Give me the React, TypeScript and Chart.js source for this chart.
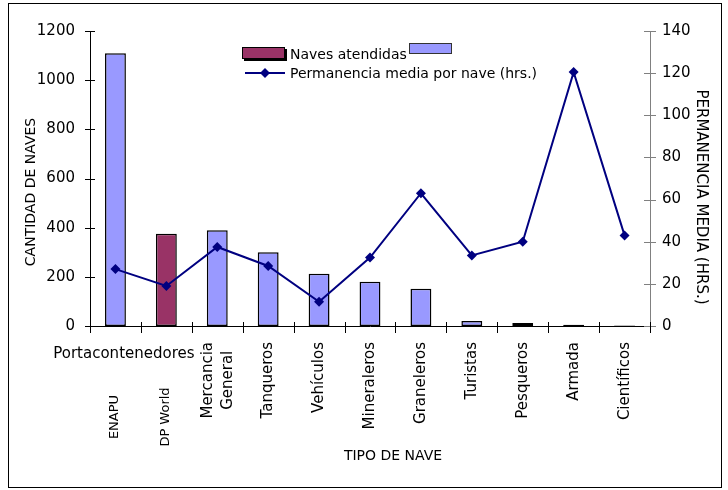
import React, { useEffect, useRef } from 'react';
import { Chart, registerables } from 'chart.js';

Chart.register(...registerables);

const categories = ['ENAPU', 'DP World', 'Mercancia General', 'Tanqueros', 'Vehículos', 'Mineraleros', 'Graneleros', 'Turistas', 'Pesqueros', 'Armada', 'Científicos'];
const categoryLines = [['ENAPU'], ['DP World'], ['Mercancia', 'General'], ['Tanqueros'], ['Vehículos'], ['Mineraleros'], ['Graneleros'], ['Turistas'], ['Pesqueros'], ['Armada'], ['Científicos']];
const groupLabel = 'Portacontenedores';
const navesAtendidas = [1110, 375, 390, 300, 213, 180, 152, 20, 12, 5, 2];
const permanencia = [27, 19, 37.5, 28.5, 11.5, 32.5, 63, 33.5, 40, 120.5, 43];
const leftTicks = [0, 200, 400, 600, 800, 1000, 1200];
const rightTicks = [0, 20, 40, 60, 80, 100, 120, 140];
const legendLabels = ['Naves atendidas', 'Permanencia media por nave (hrs.)'];
const xTitle = 'TIPO DE NAVE';
const yTitle = 'CANTIDAD DE NAVES';
const y1Title = 'PERMANENCIA MEDIA (HRS.)';

const BLUE = '#9999FF';
const MAROON = '#993366';
const NAVY = '#000080';
const FONT = '"DejaVu Sans", Verdana, sans-serif';

const overlay = {
  id: 'overlay',
  afterDraw(chart: any) {
    const ctx = chart.ctx as CanvasRenderingContext2D;
    const xs = chart.scales.x;
    const ys = chart.scales.y;
    const y1s = chart.scales.y1;
    const ca = chart.chartArea;
    ctx.save();
    // outer frame
    ctx.strokeStyle = '#000';
    ctx.lineWidth = 1;
    ctx.strokeRect(8.5, 3.5, 713, 484);

    const seg = (x1: number, y1: number, x2: number, y2: number) => {
      ctx.beginPath();
      ctx.moveTo(x1, y1);
      ctx.lineTo(x2, y2);
      ctx.stroke();
    };
    // left ticks
    ctx.strokeStyle = '#000';
    leftTicks.forEach((v) => {
      const py = Math.round(ys.getPixelForValue(v)) + 0.5;
      seg(ca.left - 5, py, ca.left + 5, py);
    });
    // right ticks
    ctx.strokeStyle = '#808080';
    rightTicks.forEach((v) => {
      const py = Math.round(y1s.getPixelForValue(v)) + 0.5;
      seg(ca.right - 6, py, ca.right + 6, py);
    });
    // x ticks
    ctx.strokeStyle = '#000';
    for (let i = 0; i <= categories.length; i++) {
      const px = Math.round(xs.getPixelForValue(i - 0.5)) + 0.5;
      seg(px, ca.bottom - 4, px, ca.bottom + 7);
    }

    // x labels
    ctx.fillStyle = '#000';
    ctx.textBaseline = 'alphabetic';
    ctx.font = '15px ' + FONT;
    ctx.textAlign = 'center';
    ctx.fillText(groupLabel, xs.getPixelForValue(0.5) - 17, 358);

    categoryLines.forEach((lines, i) => {
      const cx = xs.getPixelForValue(i);
      ctx.save();
      if (i < 2) {
        ctx.font = '13px ' + FONT;
        ctx.translate(cx, 417);
        ctx.rotate(-Math.PI / 2);
        ctx.textAlign = 'center';
        ctx.fillText(lines[0], 0, 3);
      } else {
        ctx.font = '15px ' + FONT;
        ctx.translate(cx, ca.bottom + 16);
        ctx.rotate(-Math.PI / 2);
        if (lines.length === 1) {
          ctx.textAlign = 'right';
          ctx.fillText(lines[0], 0, 4);
        } else {
          const maxW = Math.max(...lines.map((l) => ctx.measureText(l).width));
          ctx.textAlign = 'center';
          lines.forEach((l, j) => {
            ctx.fillText(l, -maxW / 2, -5 + j * 20);
          });
        }
      }
      ctx.restore();
    });

    // axis titles
    ctx.font = '14px ' + FONT;
    ctx.textAlign = 'center';
    ctx.fillText(xTitle, 393, 460);

    ctx.save();
    ctx.translate(35, 192);
    ctx.rotate(-Math.PI / 2);
    ctx.fillText(yTitle, 0, 0);
    ctx.restore();

    ctx.save();
    ctx.font = '15px ' + FONT;
    ctx.translate(697, 197);
    ctx.rotate(Math.PI / 2);
    ctx.fillText(y1Title, 0, 0);
    ctx.restore();

    // legend
    ctx.fillStyle = '#000';
    ctx.fillRect(244, 49, 43, 12);
    ctx.fillStyle = MAROON;
    ctx.fillRect(242, 47, 43, 12);
    ctx.strokeStyle = '#000';
    ctx.strokeRect(242.5, 47.5, 42, 11);
    ctx.fillStyle = BLUE;
    ctx.fillRect(409, 43, 43, 11);
    ctx.strokeStyle = '#333';
    ctx.strokeRect(409.5, 43.5, 42, 10);

    ctx.fillStyle = '#000';
    ctx.font = '14px ' + FONT;
    ctx.textAlign = 'left';
    ctx.fillText(legendLabels[0], 290, 59);
    ctx.fillText(legendLabels[1], 290, 78);

    ctx.strokeStyle = NAVY;
    ctx.lineWidth = 2;
    seg(245, 73, 285, 73);
    ctx.fillStyle = NAVY;
    ctx.beginPath();
    ctx.moveTo(265, 68);
    ctx.lineTo(270, 73);
    ctx.lineTo(265, 78);
    ctx.lineTo(260, 73);
    ctx.closePath();
    ctx.fill();

    ctx.restore();
  },
};

export default function App() {
  const ref = useRef<HTMLCanvasElement>(null);
  useEffect(() => {
    if (!ref.current) return;
    const chart = new Chart(ref.current, {
      data: {
        labels: categories,
        datasets: [
          {
            type: 'line',
            label: legendLabels[1],
            data: permanencia,
            yAxisID: 'y1',
            borderColor: NAVY,
            backgroundColor: NAVY,
            borderWidth: 2,
            pointStyle: 'rectRot',
            pointRadius: 5,
            pointBorderWidth: 0,
            pointBackgroundColor: NAVY,
            order: 0,
          } as any,
          {
            type: 'bar',
            label: legendLabels[0],
            data: navesAtendidas,
            yAxisID: 'y',
            backgroundColor: navesAtendidas.map((_, i) => (i === 1 ? MAROON : BLUE)),
            borderColor: '#000',
            borderWidth: 1.5,
            borderSkipped: false,
            barPercentage: 0.82,
            categoryPercentage: 0.5,
            order: 1,
          } as any,
        ],
      },
      options: {
        responsive: false,
        animation: false,
        layout: { padding: { top: 31, left: 0, right: 0, bottom: 0 } },
        plugins: { legend: { display: false }, tooltip: { enabled: false } },
        scales: {
          x: {
            type: 'category',
            offset: true,
            grid: { display: false, drawTicks: false },
            border: { display: true, color: '#000', width: 1 },
            ticks: { display: false },
            afterFit: (s: any) => {
              s.height = 164;
            },
          },
          y: {
            position: 'left',
            min: 0,
            max: 1200,
            ticks: {
              stepSize: 200,
              color: '#000',
              padding: 15,
              font: { family: FONT, size: 15 },
              callback: (v: any) => String(v),
            },
            grid: { display: false, drawTicks: false },
            border: { display: true, color: '#000', width: 1 },
            afterFit: (s: any) => {
              s.width = 90;
            },
          },
          y1: {
            position: 'right',
            min: 0,
            max: 140,
            ticks: {
              stepSize: 20,
              color: '#000',
              padding: 12,
              font: { family: FONT, size: 15 },
              callback: (v: any) => String(v),
            },
            grid: { display: false, drawTicks: false },
            border: { display: true, color: '#808080', width: 1 },
            afterFit: (s: any) => {
              s.width = 78;
            },
          },
        },
      },
      plugins: [overlay],
    });
    return () => chart.destroy();
  }, []);
  return (
    <div style={{ position: 'fixed', left: 0, top: 0, width: 728, height: 490, background: '#fff' }}>
      <canvas ref={ref} width={728} height={490} style={{ display: 'block', width: 728, height: 490 }} />
    </div>
  );
}
